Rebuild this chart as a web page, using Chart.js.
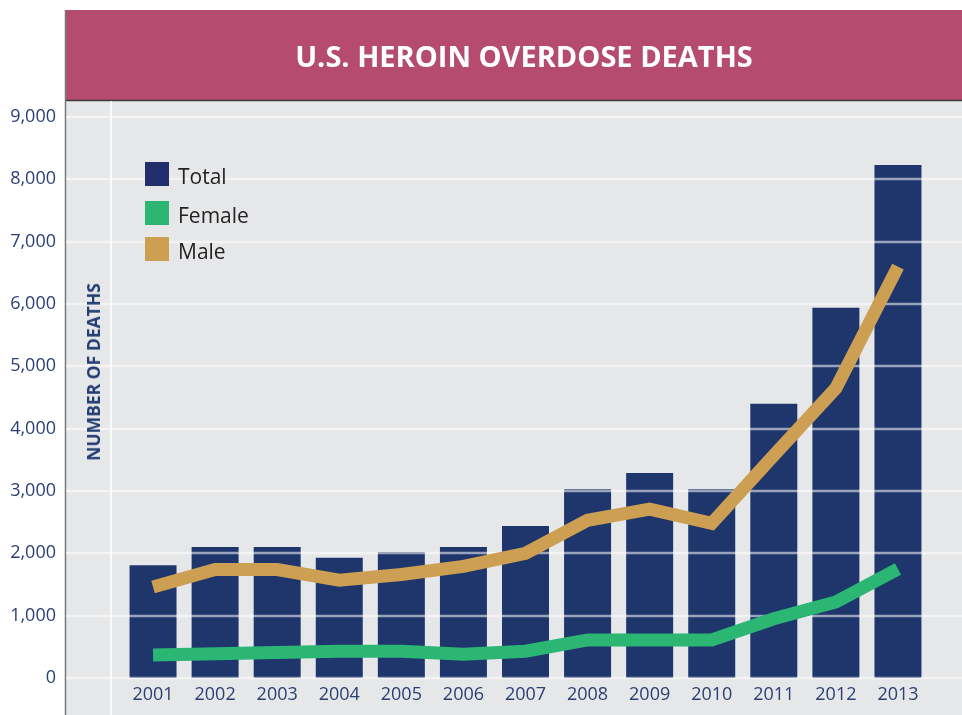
<!DOCTYPE html>
<html>
<head>
<meta charset="utf-8">
<script src="https://cdn.jsdelivr.net/npm/chart.js@4.4.1/dist/chart.umd.min.js"></script>
<style>
  html, body { margin: 0; padding: 0; background: #fff; }
  #wrap { position: relative; width: 962px; height: 715px; font-family: "Open Sans", sans-serif; }
  #chart { position: absolute; left: 0; top: 0; }
  #title {
    position: absolute; left: 76px; top: 10px; width: 896px; height: 90px;
    line-height: 92px; text-align: center; color: #fff; font-weight: bold; font-size: 29px;
  }
  #ytitle {
    position: absolute; left: 93px; top: 372px; transform: translate(-50%, -50%) rotate(-90deg);
    white-space: nowrap; color: #233d73; font-weight: bold; font-size: 17.5px;
  }
  #legend { position: absolute; left: 145px; top: 0; }
  .item { position: absolute; left: 0; height: 24px; }
  .swatch { position: absolute; left: 0; top: 0; width: 24px; height: 24px; }
  .label { position: absolute; left: 33px; top: 0; font-size: 21px; line-height: 28px; color: #231f20; white-space: nowrap; }
</style>
</head>
<body>
<div id="wrap">
  <canvas id="chart" width="962" height="715"></canvas>
  <div id="title">U.S. HEROIN OVERDOSE DEATHS</div>
  <div id="ytitle">NUMBER OF DEATHS</div>
  <div id="legend"></div>
</div>
<script>
const years = ['2001', '2002', '2003', '2004', '2005', '2006', '2007', '2008', '2009', '2010', '2011', '2012', '2013'];
const totalDeaths = [1810, 2100, 2100, 1930, 2020, 2100, 2440, 3030, 3290, 3030, 4400, 5940, 8230];
const femaleDeaths = [370, 390, 410, 430, 430, 380, 430, 610, 610, 610, 950, 1220, 1750];
const maleDeaths = [1460, 1740, 1740, 1570, 1660, 1790, 2000, 2530, 2710, 2480, 3570, 4650, 6600];
const yTicks = [0, 1000, 2000, 3000, 4000, 5000, 6000, 7000, 8000, 9000];

const colors = {
  total: '#1e366b',
  female: '#2bb673',
  male: '#cd9f52',
  banner: '#b54c70',
  panel: '#e6e7e9',
  text: '#2a3f73'
};

const legendItems = [
  { label: 'Total', color: '#232f6c', top: 162 },
  { label: 'Female', color: colors.female, top: 201 },
  { label: 'Male', color: colors.male, top: 237 }
];

document.getElementById('legend').innerHTML = legendItems.map(item => `
  <div class="item" style="top:${item.top}px">
    <div class="swatch" style="background:${item.color}"></div>
    <div class="label">${item.label}</div>
  </div>`).join('');

// background panel, banner and frame lines
const backdrop = {
  id: 'backdrop',
  beforeDraw(chart) {
    const ctx = chart.ctx;
    ctx.save();
    ctx.fillStyle = '#fff';
    ctx.fillRect(0, 0, chart.width, chart.height);
    ctx.fillStyle = colors.panel;
    ctx.fillRect(65, 100, chart.width - 65, chart.height - 100);
    ctx.fillStyle = colors.banner;
    ctx.fillRect(65, 10, chart.width - 65, 90);
    ctx.strokeStyle = '#3a3a3c';
    ctx.lineWidth = 1.5;
    ctx.beginPath();
    ctx.moveTo(65, 100.5);
    ctx.lineTo(chart.width, 100.5);
    ctx.stroke();
    ctx.strokeStyle = '#77787b';
    ctx.beginPath();
    ctx.moveTo(65.5, 10);
    ctx.lineTo(65.5, chart.height);
    ctx.stroke();
    ctx.strokeStyle = '#fff';
    ctx.lineWidth = 1.5;
    ctx.beginPath();
    ctx.moveTo(111, 101);
    ctx.lineTo(111, chart.height);
    ctx.stroke();
    ctx.restore();
  },
  // grid lines sit on top of the bars but under the lines
  afterDatasetDraw(chart, args) {
    if (args.index !== 0) return;
    const ctx = chart.ctx;
    const y = chart.scales.y;
    ctx.save();
    ctx.strokeStyle = 'rgba(255,255,255,0.55)';
    ctx.lineWidth = 2.5;
    yTicks.forEach(v => {
      const py = Math.round(y.getPixelForValue(v));
      ctx.beginPath();
      ctx.moveTo(66, py);
      ctx.lineTo(chart.width, py);
      ctx.stroke();
    });
    ctx.restore();
  }
};

new Chart(document.getElementById('chart'), {
  data: {
    labels: years,
    datasets: [
      {
        type: 'bar',
        label: 'Total',
        data: totalDeaths,
        backgroundColor: colors.total,
        barPercentage: 0.757,
        categoryPercentage: 1,
        order: 3
      },
      {
        type: 'line',
        label: 'Female',
        data: femaleDeaths,
        borderColor: colors.female,
        borderWidth: 13,
        pointRadius: 0,
        tension: 0,
        order: 1
      },
      {
        type: 'line',
        label: 'Male',
        data: maleDeaths,
        borderColor: colors.male,
        borderWidth: 13,
        pointRadius: 0,
        tension: 0,
        order: 2
      }
    ]
  },
  options: {
    responsive: false,
    animation: false,
    layout: { padding: { top: 117, right: 33, left: 0, bottom: 0 } },
    plugins: {
      legend: { display: false },
      tooltip: { enabled: false },
      title: { display: false }
    },
    scales: {
      x: {
        offset: true,
        grid: { display: false, drawTicks: false },
        border: { display: false },
        ticks: {
          padding: 6,
          color: colors.text,
          font: { family: 'Open Sans', size: 18 },
          maxRotation: 0
        },
        afterFit(scale) { scale.height = 37; }
      },
      y: {
        min: 0,
        max: 9000,
        grid: { display: false, drawTicks: false },
        border: { display: false },
        ticks: {
          stepSize: 1000,
          padding: 66,
          color: colors.text,
          font: { family: 'Open Sans', size: 18 },
          callback: v => v.toLocaleString('en-US')
        },
        afterFit(scale) {
          // the label gap would otherwise be added above and below the axis
          scale.width = 122;
          scale.paddingTop = 0;
          scale.paddingBottom = 0;
        }
      }
    }
  },
  plugins: [backdrop]
});
</script>
</body>
</html>
